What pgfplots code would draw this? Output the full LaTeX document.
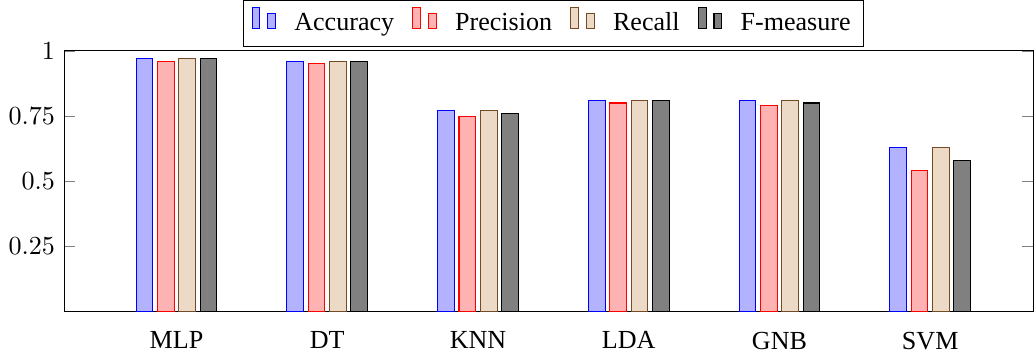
\documentclass[border=0pt]{standalone}
\usepackage{fontspec}
\setmainfont{Liberation Serif}
\usepackage{pgfplots}
\pgfplotsset{compat=1.18}
\begin{document}
\begin{tikzpicture}
\begin{axis}[
  scale only axis,
  width=372pt, height=100pt,
  ybar=1.8pt, bar width=6.4pt,
  ymin=0, ymax=1,
  xmin=-0.745, xmax=5.685,
  ytick={0.25,0.5,0.75,1},
  xtick={0,1,2,3,4,5},
  xticklabels={MLP,DT,KNN,LDA,GNB,SVM},
  major x tick style={draw=none},
  legend style={at={(0.505,1.015)}, anchor=south, legend columns=-1, draw=black, column sep=5pt, inner ysep=2.6pt},
]
\addplot coordinates {(0,0.97) (1,0.96) (2,0.77) (3,0.81) (4,0.81) (5,0.63)};
\addplot coordinates {(0,0.96) (1,0.95) (2,0.75) (3,0.80) (4,0.79) (5,0.54)};
\addplot coordinates {(0,0.97) (1,0.96) (2,0.77) (3,0.81) (4,0.81) (5,0.63)};
\addplot coordinates {(0,0.97) (1,0.96) (2,0.76) (3,0.81) (4,0.80) (5,0.58)};
\legend{Accuracy,Precision,Recall,F-measure}
\end{axis}
\end{tikzpicture}
\end{document}
